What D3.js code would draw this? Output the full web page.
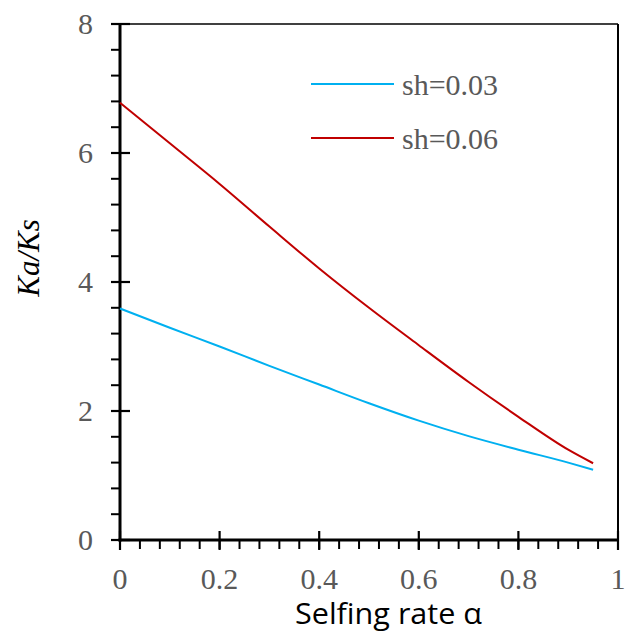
<!DOCTYPE html>
<html><head><meta charset="utf-8">
<script src="https://cdn.jsdelivr.net/npm/d3@7"></script>
<style>body{margin:0;background:#fff}
.serif{font-family:"Liberation Serif","Times New Roman",Times,serif}
.sans{font-family:"Open Sans","Liberation Sans",Arial,sans-serif}
</style>
</head><body>
<script>
const alpha = [0, 0.1, 0.2, 0.3, 0.4, 0.5, 0.6, 0.7, 0.8, 0.9, 0.95];
const sh003 = [3.59, 3.29, 3.00, 2.70, 2.41, 2.12, 1.85, 1.61, 1.40, 1.20, 1.09];
const sh006 = [6.78, 6.15, 5.52, 4.86, 4.21, 3.60, 3.02, 2.45, 1.91, 1.40, 1.19];
const seriesNames = ["sh=0.03", "sh=0.06"];
const seriesColors = ["#00B0F0", "#C00000"];
const xTicks = [0, 0.2, 0.4, 0.6, 0.8, 1];
const yTicks = [0, 2, 4, 6, 8];

const W = 627, H = 633;
const svg = d3.select("body").append("svg").attr("width", W).attr("height", H);
const x = d3.scaleLinear().domain([0, 1]).range([120, 618]);
const y = d3.scaleLinear().domain([0, 8]).range([540, 24]);

svg.append("line").attr("x1", x(0)).attr("x2", x(1)).attr("y1", y(8)).attr("y2", y(8)).attr("stroke", "#000").attr("stroke-width", 1.5);
svg.append("line").attr("x1", x(1)).attr("x2", x(1)).attr("y1", y(8)).attr("y2", y(0)).attr("stroke", "#000").attr("stroke-width", 2);

const yMinor = d3.range(0, 8.001, 0.4);
svg.append("g").selectAll("line").data(yMinor).join("line")
  .attr("x1", x(0) - 9).attr("x2", x(0)).attr("y1", d => y(d)).attr("y2", d => y(d))
  .attr("stroke", "#000").attr("stroke-width", 2);
const xMinor = d3.range(0, 1.0001, 0.04);
svg.append("g").selectAll("line").data(xMinor).join("line")
  .attr("x1", d => x(d)).attr("x2", d => x(d)).attr("y1", y(0)).attr("y2", y(0) + 9)
  .attr("stroke", "#000").attr("stroke-width", 2);
svg.append("g").selectAll("line").data(yTicks).join("line")
  .attr("x1", x(0) - 9).attr("x2", x(0) + 10).attr("y1", d => y(d)).attr("y2", d => y(d))
  .attr("stroke", "#000").attr("stroke-width", 2.2);
svg.append("g").selectAll("line").data(xTicks).join("line")
  .attr("x1", d => x(d)).attr("x2", d => x(d)).attr("y1", y(0) - 9).attr("y2", y(0) + 10)
  .attr("stroke", "#000").attr("stroke-width", 2.2);

svg.append("line").attr("x1", x(0)).attr("x2", x(0)).attr("y1", y(8)).attr("y2", y(0) + 1.5).attr("stroke", "#000").attr("stroke-width", 3);
svg.append("line").attr("x1", x(0) - 1.5).attr("x2", x(1)).attr("y1", y(0)).attr("y2", y(0)).attr("stroke", "#000").attr("stroke-width", 3);

svg.append("g").selectAll("text").data(yTicks).join("text").attr("class", "serif")
  .attr("x", 93).attr("y", d => y(d) + 10).attr("text-anchor", "end")
  .attr("font-size", 30).attr("fill", "#595959").text(d => d);
svg.append("g").selectAll("text").data(xTicks).join("text").attr("class", "serif")
  .attr("x", d => x(d)).attr("y", 589).attr("text-anchor", "middle")
  .attr("font-size", 30).attr("fill", "#595959").text(d => d);

svg.append("text").attr("class", "sans").attr("x", 295).attr("y", 624)
  .attr("font-size", 30).attr("fill", "#000")
  .attr("textLength", 187).attr("lengthAdjust", "spacingAndGlyphs")
  .text("Selfing rate α");
svg.append("text").attr("class", "serif").attr("transform", "translate(39,258) rotate(-90)").attr("text-anchor", "middle")
  .attr("font-style", "italic").attr("font-size", 31).attr("fill", "#000")
  .text("Ka/Ks");

const line = d3.line().x((d, i) => x(alpha[i])).y(d => y(d)).curve(d3.curveMonotoneX);
[sh003, sh006].forEach((s, k) => {
  svg.append("path").attr("d", line(s)).attr("fill", "none").attr("stroke", seriesColors[k]).attr("stroke-width", 2);
});

const legY = [84, 138];
seriesNames.forEach((n, k) => {
  svg.append("line").attr("x1", 311).attr("x2", 394).attr("y1", legY[k]).attr("y2", legY[k])
    .attr("stroke", seriesColors[k]).attr("stroke-width", 2);
  svg.append("text").attr("class", "serif").attr("x", 402).attr("y", legY[k] + 11)
    .attr("font-size", 30).attr("fill", "#595959").text(n);
});
</script>
</body></html>
